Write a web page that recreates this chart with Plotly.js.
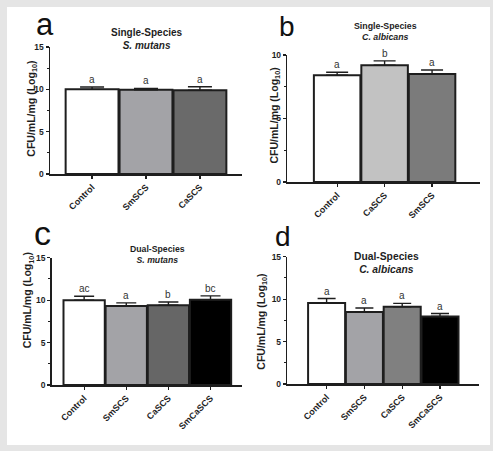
<!DOCTYPE html>
<html><head><meta charset="utf-8">
<script src="https://cdn.plot.ly/plotly-3.0.1.min.js"></script>
<style>html,body{margin:0;padding:0;background:#e5e5e5}#chart{width:493px;height:451px}</style>
</head><body><div id="chart"></div><script>
// ---- data ----
const catsA = ["Control", "SmSCS", "CaSCS"];
const valsA = [10.0, 9.95, 9.9];
const errA = [0.27, 0.15, 0.4];
const sigA = ["a", "a", "a"];

const catsB = ["Control", "CaSCS", "SmSCS"];
const valsB = [8.4, 9.2, 8.5];
const errB = [0.24, 0.34, 0.32];
const sigB = ["a", "b", "a"];

const catsC = ["Control", "SmSCS", "CaSCS", "SmCaSCS"];
const valsC = [10.0, 9.3, 9.4, 10.05];
const errC = [0.45, 0.38, 0.38, 0.45];
const sigC = ["ac", "a", "b", "bc"];

const catsD = ["Control", "SmSCS", "CaSCS", "SmCaSCS"];
const valsD = [9.55, 8.48, 9.1, 7.95];
const errD = [0.52, 0.48, 0.4, 0.35];
const sigD = ["a", "a", "a", "a"];

const yTitle = "CFU/mL/mg (Log<sub>10</sub>)";
const titleA = ["Single-Species", "S. mutans"];
const titleB = ["Single-Species", "C. albicans"];
const titleC = ["Dual-Species", "S. mutans"];
const titleD = ["Dual-Species", "C. albicans"];
const panelLetters = ["a", "b", "c", "d"];

// ---- layout constants (pixels) ----
const W = 493, H = 451;
const FONT = "Liberation Sans, Arial, sans-serif";
const INK = "#1e1e1e";
const panels = [
  {cats: catsA, vals: valsA, err: errA, sig: sigA, title: titleA, letter: panelLetters[0],
   colors: ["#ffffff", "#a3a3a7", "#6a6a6a"],
   x0: 50, x1: 242, yb: 174, yt: 47, ymax: 15, xr: [-0.78, 2.78], cap: 12,
   tx: 147, ty: 39, tfs: 10, ytx: 31.7, yty: 109, lx: 45, ly: 24, lfs: 31},
  {cats: catsB, vals: valsB, err: errB, sig: sigB, title: titleB, letter: panelLetters[1],
   colors: ["#ffffff", "#c2c2c2", "#7b7b7b"],
   x0: 287.3, x1: 480, yb: 182, yt: 55, ymax: 10, xr: [-1.05, 3.01], cap: 11,
   tx: 385, ty: 32, tfs: 8.8, ytx: 274.5, yty: 116, lx: 287, ly: 27, lfs: 28},
  {cats: catsC, vals: valsC, err: errC, sig: sigC, title: titleC, letter: panelLetters[2],
   colors: ["#ffffff", "#a3a3a7", "#666666", "#000000"],
   x0: 51.7, x1: 241.7, yb: 385, yt: 257.7, ymax: 15, xr: [-0.77, 3.74], cap: 10,
   tx: 157, ty: 254.5, tfs: 8.7, ytx: 28.3, yty: 300, lx: 42.5, ly: 233, lfs: 34},
  {cats: catsD, vals: valsD, err: errD, sig: sigD, title: titleD, letter: panelLetters[3],
   colors: ["#ffffff", "#a3a3a7", "#808080", "#000000"],
   x0: 287.3, x1: 479.3, yb: 384, yt: 256.7, ymax: 15, xr: [-1.04, 4.04], cap: 9,
   tx: 386.7, ty: 262.5, tfs: 10.3, ytx: 261.7, yty: 322, lx: 283, ly: 236, lfs: 28}
];

const data = [];
const layout = {
  width: W, height: H, margin: {l: 0, r: 0, t: 0, b: 0},
  paper_bgcolor: "#e5e5e5", plot_bgcolor: "rgba(0,0,0,0)",
  showlegend: false, bargap: 0.02,
  font: {family: FONT, color: INK},
  annotations: [],
  shapes: [{type: "rect", xref: "paper", yref: "paper", layer: "below",
            x0: 7 / W, x1: 490 / W, y0: 1 - 445 / H, y1: 1 - 7 / H,
            fillcolor: "#ffffff", line: {width: 0}}]
};

panels.forEach((p, i) => {
  const n = i === 0 ? "" : String(i + 1);
  const xa = "x" + n, ya = "y" + n;
  data.push({
    type: "bar", x: p.cats, y: p.vals, xaxis: xa, yaxis: ya,
    marker: {color: p.colors, line: {color: INK, width: 2}},
    error_y: {type: "data", array: p.err, symmetric: false, color: INK, thickness: 1.4, width: p.cap},
    hoverinfo: "skip"
  });
  const axBase = {
    showline: true, linecolor: INK, linewidth: 1.5, ticks: "outside", ticklen: 3,
    tickwidth: 1.2, tickcolor: INK, showgrid: false, zeroline: false, fixedrange: true,
    tickfont: {family: FONT, size: 8.5, color: INK, weight: "bold"}
  };
  layout["xaxis" + n] = Object.assign({}, axBase, {
    type: "category", range: p.xr, anchor: ya, tickangle: -45,
    domain: [p.x0 / W, p.x1 / W],
    tickfont: {family: FONT, size: 9, color: INK, weight: "bold"}
  });
  layout["yaxis" + n] = Object.assign({}, axBase, {
    range: [0, p.ymax], dtick: 5, anchor: xa,
    domain: [1 - p.yb / H, 1 - p.yt / H],
    minor: {dtick: 2.5, ticks: "outside", ticklen: 2, tickcolor: INK, tickwidth: 1}
  });
  // significance letters
  p.cats.forEach((c, k) => {
    layout.annotations.push({
      xref: xa, yref: ya, x: c, y: p.vals[k] + p.err[k], text: p.sig[k],
      showarrow: false, yanchor: "bottom", yshift: 0,
      font: {family: FONT, size: 10, color: "#333"}
    });
  });
  // title
  layout.annotations.push({
    xref: "paper", yref: "paper", x: p.tx / W, y: 1 - p.ty / H,
    xanchor: "center", yanchor: "middle", showarrow: false,
    text: "<b>" + p.title[0] + "</b><br><b><i>" + p.title[1] + "</i></b>",
    font: {family: FONT, size: p.tfs, color: INK}
  });
  // y axis title
  layout.annotations.push({
    xref: "paper", yref: "paper", x: p.ytx / W, y: 1 - p.yty / H,
    xanchor: "center", yanchor: "middle", showarrow: false, textangle: -90,
    text: "<b>" + yTitle + "</b>",
    font: {family: FONT, size: 10.5, color: INK}
  });
  // panel letter
  layout.annotations.push({
    xref: "paper", yref: "paper", x: p.lx / W, y: 1 - p.ly / H,
    xanchor: "center", yanchor: "middle", showarrow: false,
    text: p.letter, font: {family: FONT, size: p.lfs, color: "#111"}
  });
});

Plotly.newPlot("chart", data, layout, {displayModeBar: false, staticPlot: true});
</script></body></html>
